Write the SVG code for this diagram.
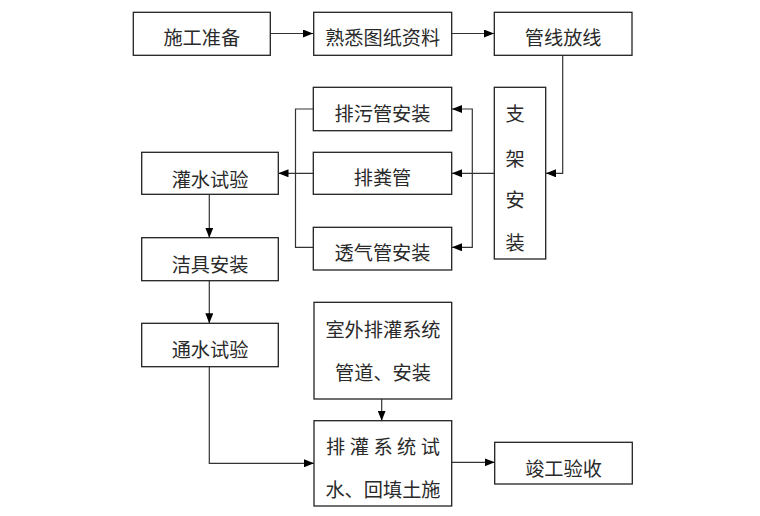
<svg xmlns="http://www.w3.org/2000/svg" width="760" height="516" viewBox="0 0 760 516">
<defs>
<marker id="arr" markerWidth="10" markerHeight="8" refX="10" refY="4" orient="auto" markerUnits="userSpaceOnUse">
<path d="M0,0 L10,4 L0,8 Z" fill="#000"/>
</marker>
<style>
.box{fill:#fff;stroke:#222;stroke-width:1.3}
.t{font-family:"Noto Sans CJK SC","Noto Sans",sans-serif;font-size:19.2px;fill:#2a2a2a;text-anchor:middle}
.c{fill:none;stroke:#333;stroke-width:1.2}
</style>
</defs>
<rect width="760" height="516" fill="#fff"/>
<g id="connectors">
<path class="c" d="M270,33.5 H313" marker-end="url(#arr)"/>
<path class="c" d="M452,33.5 H494" marker-end="url(#arr)"/>
<path class="c" d="M562.7,55 V173.3 H546" marker-end="url(#arr)"/>
<path class="c" d="M494,173.3 H452" marker-end="url(#arr)"/>
<path class="c" d="M472.3,173.3 V109 H452" marker-end="url(#arr)"/>
<path class="c" d="M472.3,173.3 V247.3 H452" marker-end="url(#arr)"/>
<path class="c" d="M313.5,109 H295.5 V247.3 H313.5"/>
<path class="c" d="M313.5,173.3 H278.5" marker-end="url(#arr)"/>
<path class="c" d="M209.3,194.5 V237.7" marker-end="url(#arr)"/>
<path class="c" d="M209.3,280.7 V323.3" marker-end="url(#arr)"/>
<path class="c" d="M209.3,366.7 V463.3 H314" marker-end="url(#arr)"/>
<path class="c" d="M381.7,399 V420.7" marker-end="url(#arr)"/>
<path class="c" d="M451.7,462.3 H494.7" marker-end="url(#arr)"/>
</g>
<g id="n1"><rect class="box" x="133.3" y="12.3" width="137" height="43"/><text class="t" x="201.8" y="45">施工准备</text></g>
<g id="n2"><rect class="box" x="313.7" y="12.3" width="138" height="43"/><text class="t" x="382.7" y="45">熟悉图纸资料</text></g>
<g id="n3"><rect class="box" x="494.3" y="12.3" width="137.7" height="43"/><text class="t" x="563.2" y="45">管线放线</text></g>
<g id="n4"><rect class="box" x="494.3" y="87.3" width="51.4" height="171.7"/>
<text class="t" x="515" y="121">支</text><text class="t" x="515" y="166">架</text><text class="t" x="515" y="207">安</text><text class="t" x="515" y="250">装</text></g>
<g id="n5"><rect class="box" x="313.3" y="87.3" width="138.4" height="43.4"/><text class="t" x="382.5" y="121">排污管安装</text></g>
<g id="n6"><rect class="box" x="313.3" y="152.3" width="138.4" height="42"/><text class="t" x="382.5" y="185">排粪管</text></g>
<g id="n7"><rect class="box" x="313.3" y="227.3" width="138.4" height="42.7"/><text class="t" x="382.5" y="260">透气管安装</text></g>
<g id="n8"><rect class="box" x="141.7" y="152.3" width="136.6" height="42"/><text class="t" x="210" y="187">灌水试验</text></g>
<g id="n9"><rect class="box" x="141.7" y="237.7" width="136.6" height="43"/><text class="t" x="210" y="272">洁具安装</text></g>
<g id="n10"><rect class="box" x="141.7" y="323.3" width="136.6" height="43.4"/><text class="t" x="210" y="357">通水试验</text></g>
<g id="n11"><rect class="box" x="314" y="302.3" width="137.7" height="96.7"/><text class="t" x="383" y="337">室外排灌系统</text><text class="t" x="383" y="380">管道、安装</text></g>
<g id="n12"><rect class="box" x="314" y="420.7" width="137.7" height="85.3"/>
<text class="t" x="383" y="453.5" textLength="114" lengthAdjust="spacing">排灌系统试</text>
<text class="t" x="383" y="497">水、回填土施</text></g>
<g id="n13"><rect class="box" x="494.7" y="442.3" width="137.6" height="41.7"/><text class="t" x="563.5" y="476">竣工验收</text></g>
</svg>
